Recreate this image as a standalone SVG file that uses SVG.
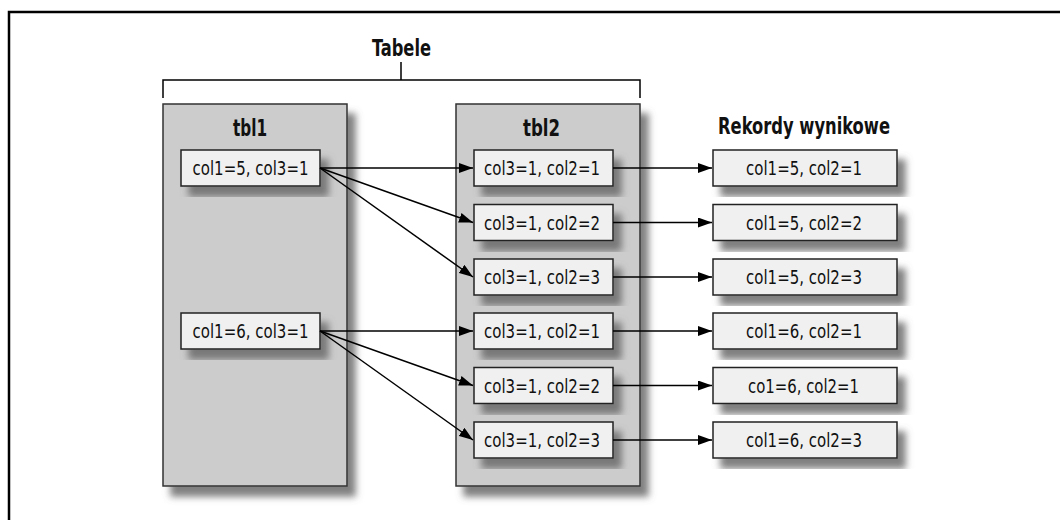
<svg xmlns="http://www.w3.org/2000/svg" width="1060" height="520" viewBox="0 0 1060 520">
<defs>
<filter id="sh" x="-20%" y="-20%" width="150%" height="150%">
<feOffset in="SourceAlpha" dx="8" dy="10" result="o"/>
<feGaussianBlur in="o" stdDeviation="3.5" result="b"/>
<feFlood flood-color="#6a6a6a" flood-opacity="0.85"/>
<feComposite in2="b" operator="in" result="s"/>
<feMerge><feMergeNode in="s"/><feMergeNode in="SourceGraphic"/></feMerge>
</filter>
<marker id="ah" viewBox="0 0 14 10" refX="14" refY="5" markerWidth="14" markerHeight="10" markerUnits="userSpaceOnUse" orient="auto">
<path d="M0,0 L14,5 L0,10 Z" fill="#000"/>
</marker>
</defs>
<style>
.panel{fill:#cccccc;stroke:#333;stroke-width:1.5}
.box{fill:#f0f0f0;stroke:#222;stroke-width:1.5}
.t{font-family:"DejaVu Sans Condensed","DejaVu Sans","Liberation Sans",sans-serif;font-stretch:condensed;font-size:19px;text-anchor:middle;fill:#111}
.h{font-family:"DejaVu Sans Condensed","DejaVu Sans","Liberation Sans",sans-serif;font-stretch:condensed;font-size:23px;font-weight:bold;text-anchor:middle;fill:#111}
.c{stroke:#000;stroke-width:1.5;fill:none;marker-end:url(#ah)}
.fr{stroke:#000;fill:none}
</style>
<rect width="1060" height="520" fill="#fff"/>
<g id="frame">
<path class="fr" stroke-width="2.5" d="M9,520 V12 H1060"/>
</g>
<g id="tabele">
<path class="fr" stroke-width="1.5" d="M163,98 V80 H640 V98 M401,80 V62"/>
<text class="h" x="401.5" y="56" textLength="59" lengthAdjust="spacingAndGlyphs">Tabele</text>
</g>
<g id="tbl1">
<rect class="panel" x="163" y="104" width="184" height="382" filter="url(#sh)"/>
<text class="h" x="250" y="136" textLength="34" lengthAdjust="spacingAndGlyphs">tbl1</text>
</g>
<g id="tbl2">
<rect class="panel" x="456" y="104" width="184" height="382" filter="url(#sh)"/>
<text class="h" x="541.5" y="136" textLength="37" lengthAdjust="spacingAndGlyphs">tbl2</text>
</g>
<g id="wyniki">
<text class="h" x="804" y="134" textLength="172" lengthAdjust="spacingAndGlyphs">Rekordy wynikowe</text>
</g>
<g id="a1"><rect class="box" x="181" y="150" width="139" height="36" filter="url(#sh)"/><text class="t" x="250.5" y="175" textLength="116" lengthAdjust="spacingAndGlyphs">col1=5, col3=1</text></g>
<g id="a2"><rect class="box" x="181" y="313" width="139" height="36" filter="url(#sh)"/><text class="t" x="250.5" y="338" textLength="116" lengthAdjust="spacingAndGlyphs">col1=6, col3=1</text></g>
<g id="b1"><rect class="box" x="474" y="150" width="139" height="36" filter="url(#sh)"/><text class="t" x="542" y="175" textLength="116" lengthAdjust="spacingAndGlyphs">col3=1, col2=1</text></g>
<g id="b2"><rect class="box" x="474" y="204.5" width="139" height="36" filter="url(#sh)"/><text class="t" x="542" y="229.5" textLength="116" lengthAdjust="spacingAndGlyphs">col3=1, col2=2</text></g>
<g id="b3"><rect class="box" x="474" y="259" width="139" height="36" filter="url(#sh)"/><text class="t" x="542" y="284" textLength="116" lengthAdjust="spacingAndGlyphs">col3=1, col2=3</text></g>
<g id="b4"><rect class="box" x="474" y="313" width="139" height="36" filter="url(#sh)"/><text class="t" x="542" y="338" textLength="116" lengthAdjust="spacingAndGlyphs">col3=1, col2=1</text></g>
<g id="b5"><rect class="box" x="474" y="367.5" width="139" height="36" filter="url(#sh)"/><text class="t" x="542" y="392.5" textLength="116" lengthAdjust="spacingAndGlyphs">col3=1, col2=2</text></g>
<g id="b6"><rect class="box" x="474" y="422" width="139" height="36" filter="url(#sh)"/><text class="t" x="542" y="447" textLength="116" lengthAdjust="spacingAndGlyphs">col3=1, col2=3</text></g>
<g id="r1"><rect class="box" x="713" y="150" width="184" height="36" filter="url(#sh)"/><text class="t" x="804" y="175" textLength="116" lengthAdjust="spacingAndGlyphs">col1=5, col2=1</text></g>
<g id="r2"><rect class="box" x="713" y="204.5" width="184" height="36" filter="url(#sh)"/><text class="t" x="804" y="229.5" textLength="116" lengthAdjust="spacingAndGlyphs">col1=5, col2=2</text></g>
<g id="r3"><rect class="box" x="713" y="259" width="184" height="36" filter="url(#sh)"/><text class="t" x="804" y="284" textLength="116" lengthAdjust="spacingAndGlyphs">col1=5, col2=3</text></g>
<g id="r4"><rect class="box" x="713" y="313" width="184" height="36" filter="url(#sh)"/><text class="t" x="804" y="338" textLength="116" lengthAdjust="spacingAndGlyphs">col1=6, col2=1</text></g>
<g id="r5"><rect class="box" x="713" y="367.5" width="184" height="36" filter="url(#sh)"/><text class="t" x="803.5" y="392.5" textLength="111" lengthAdjust="spacingAndGlyphs">co1=6, col2=1</text></g>
<g id="r6"><rect class="box" x="713" y="422" width="184" height="36" filter="url(#sh)"/><text class="t" x="804" y="447" textLength="116" lengthAdjust="spacingAndGlyphs">col1=6, col2=3</text></g>
<g id="connectors">
<line class="c" x1="320" y1="168" x2="473" y2="168"/>
<line class="c" x1="320" y1="168" x2="473" y2="222.5"/>
<line class="c" x1="320" y1="168" x2="473" y2="277"/>
<line class="c" x1="320" y1="331" x2="473" y2="331"/>
<line class="c" x1="320" y1="331" x2="473" y2="385.5"/>
<line class="c" x1="320" y1="331" x2="473" y2="440"/>
<line class="c" x1="613" y1="168" x2="712" y2="168"/>
<line class="c" x1="613" y1="222.5" x2="712" y2="222.5"/>
<line class="c" x1="613" y1="277" x2="712" y2="277"/>
<line class="c" x1="613" y1="331" x2="712" y2="331"/>
<line class="c" x1="613" y1="385.5" x2="712" y2="385.5"/>
<line class="c" x1="613" y1="440" x2="712" y2="440"/>
</g>
</svg>
